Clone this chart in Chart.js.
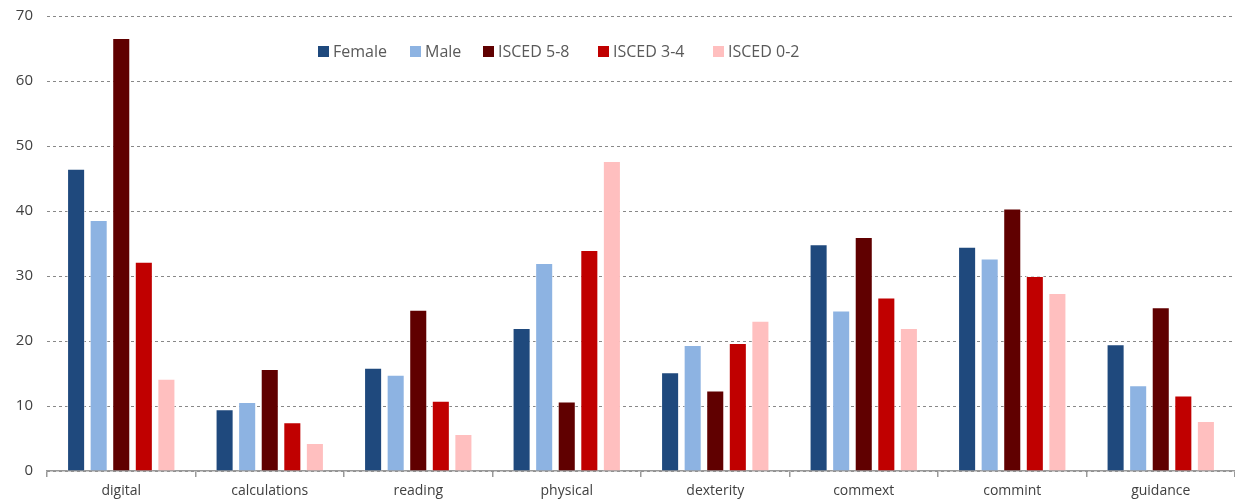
<!DOCTYPE html>
<html>
<head>
<meta charset="utf-8">
<script src="https://cdn.jsdelivr.net/npm/chart.js@4"></script>
<style>
  html, body { margin: 0; padding: 0; background: #fff; }
  #wrap { position: relative; width: 1235px; height: 502px; }
  #legend { position: absolute; top: 0; left: 0; font-family: "Open Sans", sans-serif; font-size: 16px; color: #595959; white-space: nowrap; }
  #legend .item { position: absolute; top: 40px; display: flex; align-items: center; }
  #legend .box { width: 11px; height: 11px; margin-right: 4px; }
</style>
</head>
<body>
<div id="wrap">
  <canvas id="c" width="1235" height="502"></canvas>
  <div id="legend"></div>
</div>
<script>
const categories = ["digital", "calculations", "reading", "physical", "dexterity", "commext", "commint", "guidance"];
const female   = [46.5, 9.5, 15.9, 22.0, 15.2, 34.9, 34.5, 19.5];
const male     = [38.6, 10.6, 14.8, 32.0, 19.4, 24.7, 32.7, 13.2];
const isced58  = [66.6, 15.7, 24.8, 10.7, 12.4, 36.0, 40.4, 25.2];
const isced34  = [32.2, 7.5, 10.8, 34.0, 19.7, 26.7, 30.0, 11.6];
const isced02  = [14.2, 4.3, 5.7, 47.7, 23.1, 22.0, 27.4, 7.7];
const seriesLabels = ["Female", "Male", "ISCED 5-8", "ISCED 3-4", "ISCED 0-2"];
const seriesColors = ["#1F497D", "#8DB3E2", "#600000", "#C00000", "#FFBFBF"];
const yTicks = [0, 10, 20, 30, 40, 50, 60, 70];
const legendX = [318, 410, 483, 598, 713];

const seriesData = [female, male, isced58, isced34, isced02];
const datasets = seriesData.map((d, i) => ({
  label: seriesLabels[i],
  data: d,
  backgroundColor: seriesColors[i],
  borderColor: "rgba(255,255,255,0.6)",
  borderWidth: 1,
  categoryPercentage: 0.76,
  barPercentage: 0.8
}));

const legend = document.getElementById("legend");
seriesLabels.forEach((l, i) => {
  const it = document.createElement("div");
  it.className = "item";
  it.style.left = legendX[i] + "px";
  it.innerHTML = '<span class="box" style="background:' + seriesColors[i] + '"></span><span>' + l + '</span>';
  legend.appendChild(it);
});

new Chart(document.getElementById("c"), {
  type: "bar",
  data: { labels: categories, datasets },
  options: {
    responsive: false,
    animation: false,
    layout: { padding: { top: 0, right: 0, left: 0, bottom: 0 } },
    plugins: { legend: { display: false }, tooltip: { enabled: false } },
    scales: {
      x: {
        offset: true,
        grid: { display: true, drawOnChartArea: false, drawTicks: true, tickLength: 6, color: "#999", offset: true, lineWidth: 1.5 },
        border: { display: true, color: "#999", width: 1.5 },
        ticks: { color: "#404040", font: { family: "Open Sans", size: 14 }, padding: 6 },
        afterFit: s => { s.height = 31; }
      },
      y: {
        min: 0, max: 70,
        afterBuildTicks: s => { s.ticks = yTicks.map(v => ({ value: v })); },
        grid: { color: "#888", borderDash: [3, 3], drawTicks: false, lineWidth: 1 },
        border: { display: false, dash: [3, 3] },
        ticks: { color: "#404040", font: { family: "Open Sans", size: 15 }, padding: 14 },
        afterFit: s => { s.width = 47; s.paddingTop = 16; s.paddingBottom = 0; }
      }
    }
  }
});
</script>
</body>
</html>
